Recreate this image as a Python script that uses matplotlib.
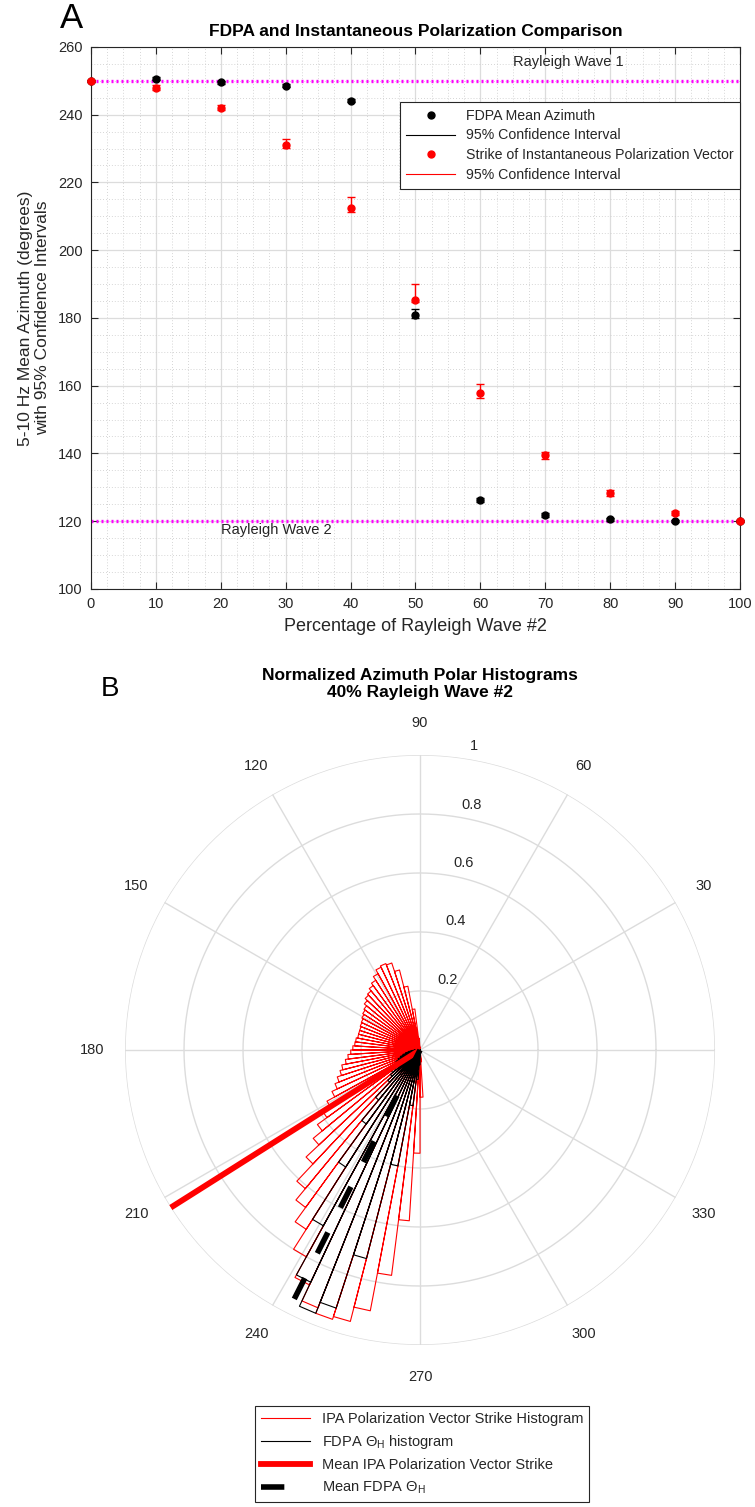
import numpy as np
import matplotlib
matplotlib.use("Agg")
from matplotlib import pyplot as plt
from matplotlib import transforms
from matplotlib.lines import Line2D
from matplotlib.ticker import MultipleLocator

plt.rcParams["font.family"] = ["Liberation Sans", "DejaVu Sans"]
plt.rcParams["mathtext.fontset"] = "custom"
plt.rcParams["mathtext.rm"] = "Liberation Sans"
plt.rcParams["mathtext.it"] = "Liberation Sans"

INK = "#262626"
GRID = "#dcdcdc"

# panel A: mean azimuth vs percentage of Rayleigh wave #2
pct = [0, 10, 20, 30, 40, 50, 60, 70, 80, 90, 100]
fdpa_mean = [250.0, 250.6, 249.5, 248.5, 244.1, 180.8, 126.2, 121.8, 120.5, 120.1, 120.0]
fdpa_lo = [0.3, 0.4, 0.4, 0.4, 0.5, 0.8, 0.6, 0.5, 0.4, 0.3, 0.3]
fdpa_hi = [0.3, 0.4, 0.4, 0.4, 0.5, 1.7, 0.6, 0.5, 0.4, 0.3, 0.3]
ipa_mean = [250.0, 248.0, 242.0, 231.1, 212.4, 185.4, 157.9, 139.5, 128.3, 122.3, 120.0]
ipa_lo = [0.3, 0.6, 0.5, 1.0, 1.2, 0.8, 1.5, 1.2, 0.8, 0.5, 0.3]
ipa_hi = [0.3, 0.6, 0.7, 1.6, 3.2, 4.5, 2.5, 1.0, 0.8, 0.8, 0.3]
wave1_az = 250
wave2_az = 120

# panel B: rose histograms at 40% Rayleigh wave #2 (3.6 deg bins)
bin_width = 3.6
ipa_first_bin = 93.6
ipa_hist = [0.04, 0.14, 0.22, 0.28, 0.31, 0.315, 0.31, 0.295, 0.28, 0.27,
            0.26, 0.255, 0.245, 0.235, 0.23, 0.225, 0.22, 0.218, 0.215, 0.215,
            0.215, 0.22, 0.222, 0.228, 0.235, 0.245, 0.255, 0.27, 0.28, 0.295,
            0.31, 0.33, 0.36, 0.39, 0.43, 0.47, 0.53, 0.61, 0.66, 0.72,
            0.80, 0.88, 0.94, 0.96, 0.95, 0.90, 0.77, 0.58, 0.35, 0.16, 0.04]
fdpa_first_bin = 180.0
fdpa_hist = [0.02, 0.03, 0.04, 0.05, 0.06, 0.07, 0.08, 0.09, 0.10, 0.11,
             0.12, 0.13, 0.15, 0.22, 0.31, 0.47, 0.68, 0.87, 0.96, 0.92,
             0.73, 0.40, 0.19, 0.10, 0.05]
ipa_mean_strike = 212.3
fdpa_mean_theta = 243.2
rings = [0.2, 0.4, 0.6, 0.8, 1.0]
ring_labels = ["0.2", "0.4", "0.6", "0.8", "1"]
spokes = [0, 30, 60, 90, 120, 150, 180, 210, 240, 270, 300, 330]

fig = plt.figure(figsize=(7.55, 15.07), dpi=100)

# ---------------- panel A ----------------
ax = fig.add_axes([0.1205, 0.6092, 0.8596, 0.3597])
ax.set_axisbelow(True)
ax.axhline(wave1_az, color="#ff00ff", lw=2.4, ls=(0, (0.6, 0.9)), zorder=2)
ax.axhline(wave2_az, color="#ff00ff", lw=2.4, ls=(0, (0.6, 0.9)), zorder=2)
eb_k = ax.errorbar(pct, fdpa_mean, yerr=[fdpa_lo, fdpa_hi], fmt="o", color="k",
                   ms=5, elinewidth=1.0, capsize=3, capthick=1.0, zorder=3)
eb_r = ax.errorbar(pct, ipa_mean, yerr=[ipa_lo, ipa_hi], fmt="o", color="#ff0000",
                   ms=5, elinewidth=1.0, capsize=3, capthick=1.0, zorder=4)
for eb in (eb_k, eb_r):
    for art in eb.lines[0:1] + eb.lines[1] + eb.lines[2]:
        art.set_clip_on(False)
ax.text(65, 255.5, "Rayleigh Wave 1", fontsize=10.5, color=INK, va="center")
ax.text(20, 117.3, "Rayleigh Wave 2", fontsize=10.5, color=INK, va="center")

ax.set_xlim(0, 100)
ax.set_ylim(100, 260)
ax.xaxis.set_major_locator(MultipleLocator(10))
ax.yaxis.set_major_locator(MultipleLocator(20))
ax.xaxis.set_minor_locator(MultipleLocator(2.5))
ax.yaxis.set_minor_locator(MultipleLocator(5))
ax.grid(which="major", color=GRID, lw=0.9)
ax.grid(which="minor", color="#c8c8c8", lw=0.6, ls=(0, (1, 2.5)))
ax.tick_params(which="major", direction="in", length=5, colors=INK,
               labelsize=10.5, top=True, right=True, pad=6)
ax.tick_params(which="minor", length=0)
for s in ax.spines.values():
    s.set_color(INK)
    s.set_linewidth(0.8)
ax.set_xlabel("Percentage of Rayleigh Wave #2", fontsize=13, color=INK, labelpad=5)
ax.set_ylabel("5-10 Hz Mean Azimuth (degrees)\nwith 95% Confidence Intervals",
              fontsize=12.5, color=INK, labelpad=6, linespacing=1.15)
ax.set_title("FDPA and Instantaneous Polarization Comparison", fontsize=12.5,
             fontweight="bold", color="k", pad=8)

handles = [
    Line2D([], [], ls="none", marker="o", color="k", ms=5),
    Line2D([], [], color="k", lw=0.8),
    Line2D([], [], ls="none", marker="o", color="#ff0000", ms=5),
    Line2D([], [], color="#ff0000", lw=0.8),
]
labels = ["FDPA Mean Azimuth", "95% Confidence Interval",
          "Strike of Instantaneous Polarization Vector", "95% Confidence Interval"]
leg = ax.legend(handles, labels, loc="upper right", bbox_to_anchor=(1.0, 0.898),
                borderaxespad=0, fontsize=10.2, handlelength=3.4, fancybox=False,
                framealpha=1, edgecolor=INK, labelspacing=0.42, borderpad=0.45)
leg.get_frame().set_linewidth(0.8)
for t in leg.get_texts():
    t.set_color(INK)

fig.text(71 / 755, 1 - 18 / 1507, "A", fontsize=25, ha="center", va="center")

# ---------------- panel B ----------------
pax = fig.add_axes([0.1656, 0.1075, 0.78146, 0.39151], projection="polar")
pax.set_ylim(0, 1)
pax.set_xticks([])
pax.set_yticks([])
pax.grid(False)
pax.spines["polar"].set_visible(False)

circle_t = np.linspace(0, 2 * np.pi, 361)
for r in rings:
    pax.plot(circle_t, np.full_like(circle_t, r), color=GRID, lw=1.0, zorder=1)
for a in spokes:
    pax.plot([np.deg2rad(a), np.deg2rad(a)], [0, 1], color=GRID, lw=1.0, zorder=1)
    if a != 0:
        pax.text(np.deg2rad(a), 1.11, str(a), ha="center", va="center",
                 fontsize=10.5, color=INK)
shifted = transforms.offset_copy(pax.transData, fig=fig, x=7, y=0, units="dots")
for r, lab in zip(rings, ring_labels):
    pax.text(np.deg2rad(82), r + 0.04, lab, ha="left", va="center",
             fontsize=10.5, color=INK, transform=shifted)


def rose(axis, first_bin, values, **kw):
    th, rr = [], []
    for i, v in enumerate(values):
        a0 = np.deg2rad(first_bin + i * bin_width)
        a1 = np.deg2rad(first_bin + (i + 1) * bin_width)
        th += [a0, a0, a1, a1]
        rr += [0, v, v, 0]
    axis.plot(th, rr, **kw)


rose(pax, ipa_first_bin, ipa_hist, color="#ff0000", lw=0.8, zorder=3)
rose(pax, fdpa_first_bin, fdpa_hist, color="k", lw=0.8, zorder=4)
pax.plot([np.deg2rad(ipa_mean_strike)] * 2, [0, 1], color="#ff0000", lw=4.2,
         solid_capstyle="butt", zorder=5)
pax.plot([np.deg2rad(fdpa_mean_theta)] * 2, [0, 1], color="k", lw=4.0,
         dashes=(4.2, 5.0), dash_capstyle="butt", zorder=6)

fig.text(0.5563, 1 - 684 / 1507,
         "Normalized Azimuth Polar Histograms\n40% Rayleigh Wave #2",
         fontsize=12.5, fontweight="bold", ha="center", va="center",
         linespacing=1.2)
fig.text(110 / 755, 1 - 689 / 1507, "B", fontsize=20, ha="center", va="center")

p_handles = [
    Line2D([], [], color="#ff0000", lw=0.8),
    Line2D([], [], color="k", lw=0.8),
    Line2D([], [], color="#ff0000", lw=4.2),
    Line2D([], [], color="k", lw=4.0, dashes=(4.2, 5.0)),
]
p_labels = ["IPA Polarization Vector Strike Histogram", r"FDPA $\Theta_H$ histogram",
            "Mean IPA Polarization Vector Strike", r"Mean FDPA $\Theta_H$"]
pleg = fig.legend(p_handles, p_labels, loc="upper left",
                  bbox_to_anchor=(255 / 755, 1 - 1406 / 1507), borderaxespad=0,
                  fontsize=10.5, handlelength=3.4, fancybox=False, framealpha=1,
                  edgecolor=INK, labelspacing=0.5, borderpad=0.4)
pleg.get_frame().set_linewidth(0.8)
for t in pleg.get_texts():
    t.set_color(INK)

fig.savefig("out.png", dpi=100, facecolor="white")
